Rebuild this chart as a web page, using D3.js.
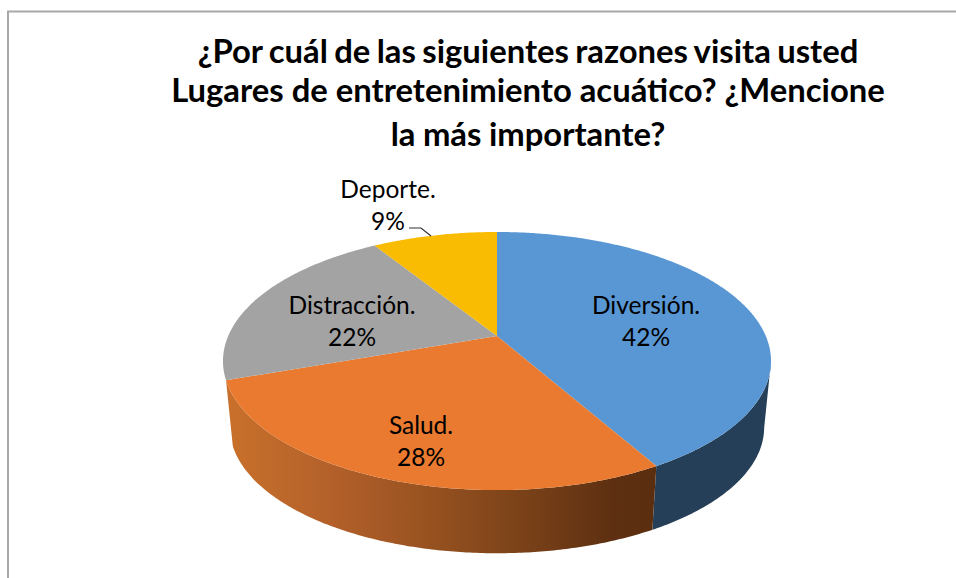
<!DOCTYPE html>
<html><head><meta charset="utf-8">
<script src="https://cdn.jsdelivr.net/npm/d3@7/dist/d3.min.js"></script>
<style>html,body{margin:0;padding:0;background:#fff}svg{display:block}text{font-family:Lato,"Open Sans",sans-serif;fill:#000}</style>
</head><body><svg id="c" width="956" height="578"></svg>
<script>
const titleLines = ["¿Por cuál de las siguientes razones visita usted","Lugares de entretenimiento acuático? ¿Mencione","la más importante?"];
const categories = ["Diversión.","Salud.","Distracción.","Deporte."];
const values = [41.8,27.8,21.5,8.9];
const topColors = ["#5997d4","#e97a2f","#a3a3a3","#fabc02"];
const wallColors = ["#243f57","url(#wallOrange)",null,null];

const svg = d3.select("#c");

// frame
svg.append("path").attr("d","M8 578V11.5H956").attr("fill","none").attr("stroke","#a8a8a8").attr("stroke-width",2);

// title
const titleY=[63,102,146];
const titleSpacing=[-1.6,0,-0.5];
svg.append("g").selectAll("text").data(titleLines).join("text")
  .attr("x",528).attr("y",(d,i)=>titleY[i]).attr("text-anchor","middle")
  .attr("word-spacing",(d,i)=>titleSpacing[i])
  .attr("font-size",32.8).attr("font-weight",700).text(d=>d);

// perspective projection of the pie disc
const cx=497, cy=336, k=0.194, b=124.2, a=268.8;
const lowerScale=0.975, lowerY=403;
const wallStart=1.77;
function rimTop(t){const u=Math.sin(t),v=Math.cos(t),w=1+k*v;return [cx+a*u/w,cy-b*v/w];}
function rimBot(t){const p=rimTop(t);return [cx+(p[0]-cx)*lowerScale,lowerY+(p[1]-cy)*lowerScale];}

const pie=d3.pie().sort(null).value(d=>d);
const arcs=pie(values);
const line=d3.line();
function samples(s,e){const n=Math.max(2,Math.ceil((e-s)/0.01));return d3.range(n+1).map(i=>s+(e-s)*i/n);}

const grad=svg.append("defs").append("linearGradient").attr("id","wallOrange")
  .attr("gradientUnits","userSpaceOnUse").attr("x1",225).attr("x2",655).attr("y1",0).attr("y2",0);
[[0,"#c9712b"],[0.25,"#b3602a"],[0.5,"#94501f"],[0.7,"#794118"],[0.9,"#5e3011"],[1,"#5c2e10"]]
  .forEach(s=>grad.append("stop").attr("offset",s[0]).attr("stop-color",s[1]));

// side walls (only front-facing slices are seen)
const gWalls=svg.append("g");
arcs.forEach((d,i)=>{
  if(!wallColors[i])return;
  const s=Math.max(d.startAngle,wallStart), ss=samples(s,d.endAngle);
  const pts=ss.map(rimTop).concat(ss.slice().reverse().map(rimBot));
  gWalls.append("path").attr("d",line(pts)+"Z").attr("fill",wallColors[i]);
});

// top face
const gTop=svg.append("g");
arcs.forEach((d,i)=>{
  const pts=[[cx,cy]].concat(samples(d.startAngle,d.endAngle).map(rimTop));
  gTop.append("path").attr("d",line(pts)+"Z").attr("fill",topColors[i]);
});

// labels
const labelPos=[[646,314,346],[421,434,466],[352,314,346],[388,198,230]];
const gL=svg.append("g");
categories.forEach((c,i)=>{
  const p=labelPos[i];
  gL.append("text").attr("x",p[0]).attr("y",p[1]).attr("text-anchor","middle").attr("font-size",24.5).text(c);
  gL.append("text").attr("x",p[0]).attr("y",p[2]).attr("text-anchor","middle").attr("font-size",24.5).text(Math.round(values[i])+"%");
});
// leader
svg.append("path").attr("d","M409 228H421L431 236").attr("fill","none").attr("stroke","#303030").attr("stroke-width",1.2);
</script></body></html>
